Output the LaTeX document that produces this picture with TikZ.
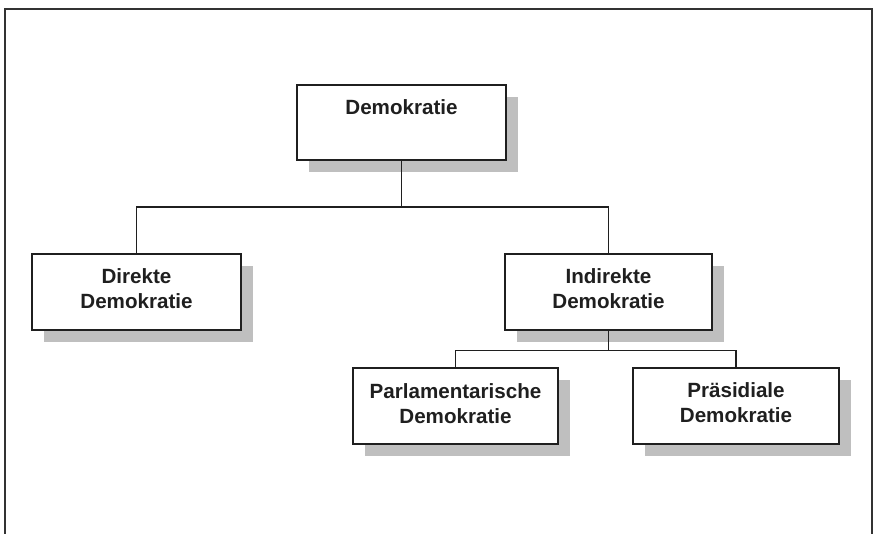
\documentclass[tikz,border=0pt]{standalone}
\usepackage{fontspec}
\setmainfont{Liberation Sans}
\usetikzlibrary{shadows}
\begin{document}
\begin{tikzpicture}[x=1pt,y=-1pt,
  box/.style={draw=black!88, line width=1.8pt, fill=white, inner sep=0pt,
    general shadow={fill=black!25, shadow xshift=12pt, shadow yshift=-12pt}},
  lbl/.style={anchor=north, inner sep=0pt, align=center, text=black!88,
    font=\fontsize{20.6}{25.3}\selectfont\bfseries},
  conn/.style={draw=black!88, line width=1.6pt}]
\useasboundingbox (0,0) rectangle (877,534);
% outer frame (open at the bottom)
\draw[black!80, line width=2pt] (4.5,534) -- (4.5,9.5) -- (871.5,9.5) -- (871.5,534);
% boxes
\node[box, minimum width=209pt, minimum height=75pt] (dem) at (401.5,122.5) {};
\node[box, minimum width=209pt, minimum height=76pt] (dir) at (136.5,292) {};
\node[box, minimum width=207pt, minimum height=76pt] (ind) at (608.5,292) {};
\node[box, minimum width=205pt, minimum height=76pt] (par) at (455.5,406) {};
\node[box, minimum width=206pt, minimum height=76pt] (pra) at (736,406) {};
% labels
\node[lbl] (tdem) at (401.5,99) {Demokratie};
\node[lbl] (tdir) at (136.5,268) {Direkte\\Demokratie};
\node[lbl] (tind) at (608.5,268) {Indirekte\\Demokratie};
\node[lbl] (tpar) at (455.5,383) {Parlamentarische\\Demokratie};
\node[lbl] (tpra) at (736,382) {Präsidiale\\Demokratie};
% connectors
\coordinate (j1) at (401.5,207);
\coordinate (j2) at (608.5,350.5);
\draw[conn] (dem.south) -- (j1);
\draw[conn] (dir.north) |- (j1) -| (ind.north);
\draw[conn] (ind.south) -- (j2);
\draw[conn] (par.north) |- (j2) -| (pra.north);
\end{tikzpicture}
\end{document}
